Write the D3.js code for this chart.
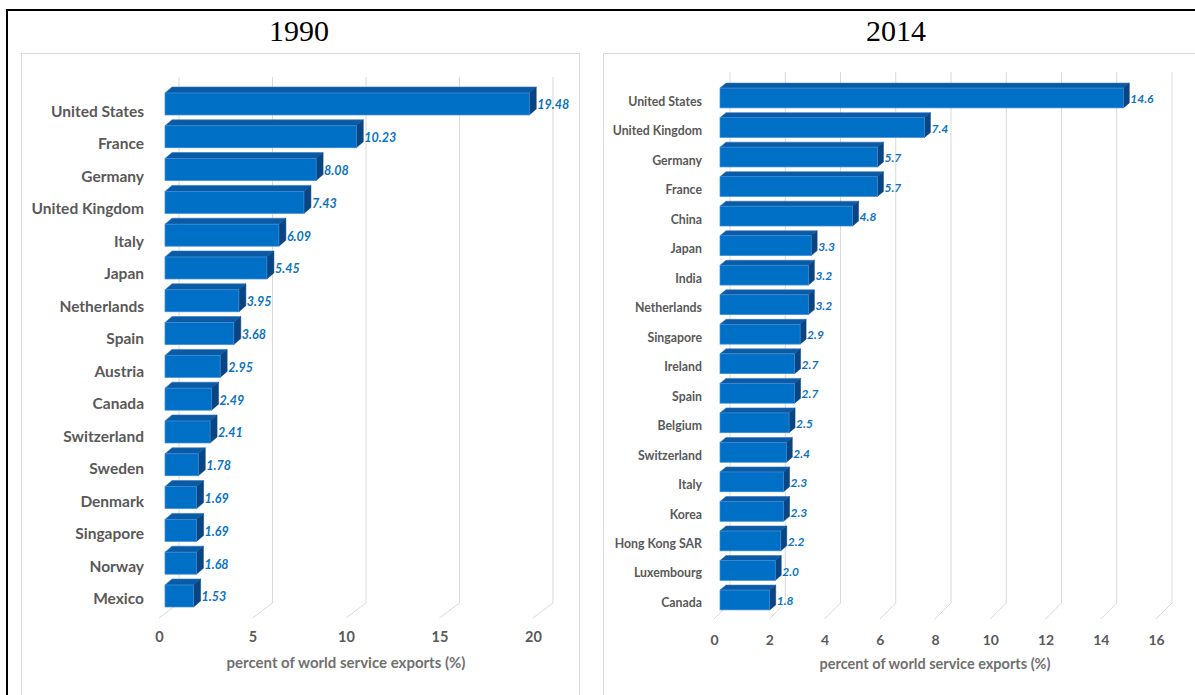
<!DOCTYPE html>
<html>
<head>
<meta charset="utf-8">
<script src="https://cdn.jsdelivr.net/npm/d3@7"></script>
<style>
  body { margin: 0; background: #fff; }
  svg { display: block; }
  .cat text { font-family: Lato, "Open Sans", sans-serif; font-weight: 700; fill: #595959; }
  .tick-x text { font-family: Lato, "Open Sans", sans-serif; font-weight: 700; fill: #595959; }
</style>
</head>
<body>
<svg id="chart" width="1195" height="695"></svg>
<script>
// 1990 panel data
const cats1990 = ["United States", "France", "Germany", "United Kingdom", "Italy", "Japan", "Netherlands", "Spain",
  "Austria", "Canada", "Switzerland", "Sweden", "Denmark", "Singapore", "Norway", "Mexico"];
const vals1990 = [19.48, 10.23, 8.08, 7.43, 6.09, 5.45, 3.95, 3.68, 2.95, 2.49, 2.41, 1.78, 1.69, 1.69, 1.68, 1.53];
const labels1990 = ["19.48", "10.23", "8.08", "7.43", "6.09", "5.45", "3.95", "3.68", "2.95", "2.49", "2.41", "1.78", "1.69", "1.69", "1.68", "1.53"];
const ticks1990 = [0, 5, 10, 15, 20];

// 2014 panel data
const cats2014 = ["United States", "United Kingdom", "Germany", "France", "China", "Japan", "India", "Netherlands",
  "Singapore", "Ireland", "Spain", "Belgium", "Switzerland", "Italy", "Korea", "Hong Kong SAR", "Luxembourg", "Canada"];
const vals2014 = [14.6, 7.4, 5.7, 5.7, 4.8, 3.3, 3.2, 3.2, 2.9, 2.7, 2.7, 2.5, 2.4, 2.3, 2.3, 2.2, 2.0, 1.8];
const labels2014 = ["14.6", "7.4", "5.7", "5.7", "4.8", "3.3", "3.2", "3.2", "2.9", "2.7", "2.7", "2.5", "2.4", "2.3", "2.3", "2.2", "2.0", "1.8"];
const ticks2014 = [0, 2, 4, 6, 8, 10, 12, 14, 16];

const axisTitle = "percent of world service exports (%)";

const svg = d3.select("#chart");
svg.append("rect").attr("width", 1195).attr("height", 695).attr("fill", "#fff");

// outer frame and panel boxes
svg.append("rect").attr("x", 7).attr("y", 10).attr("width", 1200).attr("height", 700)
  .attr("fill", "none").attr("stroke", "#000").attr("stroke-width", 2);
svg.append("rect").attr("x", 21.5).attr("y", 53.5).attr("width", 558).attr("height", 700)
  .attr("fill", "none").attr("stroke", "#d9d9d9");
svg.append("rect").attr("x", 603.5).attr("y", 53.5).attr("width", 700).attr("height", 700)
  .attr("fill", "none").attr("stroke", "#d9d9d9");

function drawPanel(o) {
  const g = svg.append("g");

  g.append("text").attr("x", o.titleX).attr("y", 41).attr("text-anchor", "middle")
    .style("font-family", "'Liberation Serif', 'Times New Roman', serif").style("font-size", "30px")
    .attr("fill", "#000").text(o.title);

  const x = d3.scaleLinear().domain([0, d3.max(o.ticks)]).range(o.xRange);
  // bar plane and label (floor front) plane
  const y = d3.scaleBand().domain(o.cats)
    .range(o.yRange).paddingInner(0.33).paddingOuter(0.165);
  const yLab = d3.scaleBand().domain(o.cats).range(o.labRange);

  // floor diagonals + back wall gridlines
  const grid = g.append("g").attr("stroke", "#d9d9d9").attr("stroke-width", 1).attr("fill", "none");
  o.ticks.forEach(t => {
    const fx = x(t), bx = x(t) + o.floor[0], by = o.floorY + o.floor[1];
    grid.append("path").attr("d", `M${fx},${o.floorY}L${bx},${by}L${bx},${o.gridTop}`);
  });

  // bars (3D: top face, side face, front face)
  const bars = g.append("g");
  o.cats.forEach((c, i) => {
    const v = o.vals[i];
    const x0 = x(0) + o.barDx, x1 = x(v) + o.barDx;
    const yt = y(c), yb = y(c) + y.bandwidth();
    const [dx, dy] = o.depth;
    const b = bars.append("g");
    b.append("path")
      .attr("d", `M${x0},${yt}L${x0 + dx},${yt + dy}L${x1 + dx},${yt + dy}L${x1},${yt}Z`)
      .attr("fill", "#0b5aa6").attr("stroke", "#2f74bd").attr("stroke-width", 0.6);
    b.append("path")
      .attr("d", `M${x1},${yt}L${x1 + dx},${yt + dy}L${x1 + dx},${yb + dy}L${x1},${yb}Z`)
      .attr("fill", "#0a4583").attr("stroke", "#0a4583").attr("stroke-width", 0.5);
    b.append("rect").attr("x", x0).attr("y", yt).attr("width", x1 - x0).attr("height", yb - yt)
      .attr("fill", "#0070c6").attr("stroke", "#3f8bd6").attr("stroke-width", 0.7);
    b.append("text")
      .attr("x", x1 + dx + 1).attr("y", yt + y.bandwidth() / 2 + 1).attr("dy", "0.35em")
      .style("font-family", "Lato, 'Open Sans', sans-serif").style("font-weight", 700)
      .style("font-style", "italic").style("font-size", o.valFont + "px")
      .attr("fill", "#0a72c4").text(o.labels[i]);
  });

  // category axis
  const cat = g.append("g").attr("class", "cat")
    .attr("transform", `translate(${o.catX},0)`)
    .call(d3.axisLeft(yLab).tickSize(0).tickPadding(0));
  cat.select(".domain").remove();
  cat.selectAll("text").style("font-size", o.catFont + "px");

  // value axis labels
  const ax = g.append("g").attr("class", "tick-x")
    .attr("transform", `translate(0,${o.tickY})`)
    .call(d3.axisBottom(x).tickValues(o.ticks).tickSize(0).tickPadding(0).tickFormat(d3.format("d")));
  ax.select(".domain").remove();
  ax.selectAll("text").style("font-size", o.tickFont + "px").attr("dy", "0.35em");

  g.append("text").attr("x", x(d3.max(o.ticks) / 2)).attr("y", o.titleY)
    .attr("text-anchor", "middle").attr("dy", "0.35em")
    .style("font-family", "Lato, 'Open Sans', sans-serif").style("font-weight", 700)
    .style("font-size", o.axFont + "px").attr("fill", "#707070").text(axisTitle);
}

drawPanel({
  title: "1990", titleX: 299,
  cats: cats1990, vals: vals1990, labels: labels1990, ticks: ticks1990,
  xRange: [159, 533], yRange: [104 - 16.4, 596 + 16.4], labRange: [111.7 - 16.25, 599.5 + 16.25],
  floorY: 618, floor: [20, -15], gridTop: 77,
  barDx: 6, depth: [7, -6],
  catX: 144, catFont: 15.5, valFont: 12.5, tickFont: 14.5,
  tickY: 637, titleY: 663, axFont: 15
});

drawPanel({
  title: "2014", titleX: 896,
  cats: cats2014, vals: vals2014, labels: labels2014, ticks: ticks2014,
  xRange: [714, 1156], yRange: [98 - 14.76, 600 + 14.76], labRange: [102 - 14.74, 603 + 14.74],
  floorY: 619, floor: [16, -16], gridTop: 72,
  barDx: 6, depth: [6, -5],
  catX: 702, catFont: 12.3, valFont: 12, tickFont: 14,
  tickY: 640, titleY: 664, axFont: 14.5
});
</script>
</body>
</html>
